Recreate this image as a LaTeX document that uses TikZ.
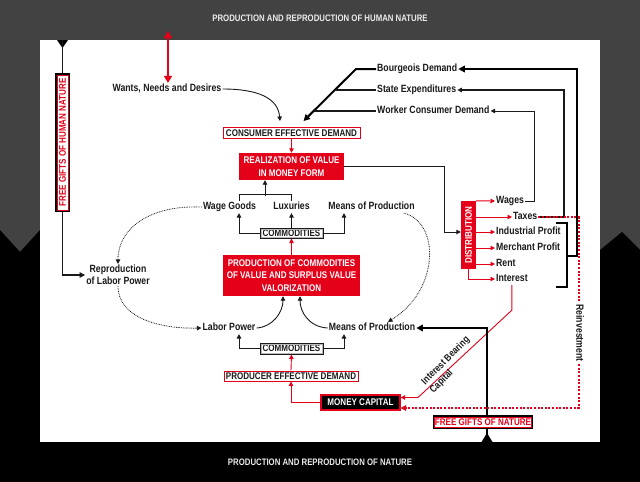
\documentclass[tikz,border=0pt]{standalone}
\usepackage{fontspec}
\usepackage{graphicx}
\setmainfont{Liberation Sans}[FakeStretch=0.83]
\usetikzlibrary{arrows.meta,calc}
\definecolor{rd}{HTML}{E5001A}
\definecolor{bgtop}{HTML}{424242}
\definecolor{ink}{HTML}{1A1A1A}
\begin{document}
\begin{tikzpicture}[x=1pt,y=-1pt,
  every node/.style={font=\bfseries\fontsize{10.5}{12}\selectfont, text=ink, inner sep=1pt},
  lab/.style={text height=7.6pt, text depth=2.2pt},
  capf/.style={font=\bfseries\fontsize{9.7}{12.5}\selectfont},
  barrow/.style={-{Triangle[length=4.5pt,width=4.5pt]}, draw=ink, line width=0.9pt},
  rarrow/.style={-{Triangle[length=4.5pt,width=4.5pt]}, draw=rd, line width=0.9pt},
  tarrow/.style={-{Triangle[length=6.5pt,width=6.5pt]}, draw=black, line width=2pt},
  darrow/.style={-{Triangle[length=4.5pt,width=4.5pt]}, draw=ink, line width=0.8pt, dash pattern=on 0.8pt off 0.9pt},
  rdotarrow/.style={-{Triangle[length=5.5pt,width=5.5pt]}, draw=rd, line width=2pt, dash pattern=on 2pt off 1.6pt},
  redbox/.style={capf, fill=rd, text=white, inner sep=0pt, align=center},
  outbox/.style={capf, fill=white, inner sep=0pt},
]
\useasboundingbox (0,0) rectangle (640,482);
% background
\fill[bgtop] (0,0) rectangle (640,482);
\fill[black] (0,230) -- (20,252) -- (40,230) -- (600,250) -- (622,232) -- (640,250) -- (640,482) -- (0,482) -- cycle;
\fill[white] (40,40) rectangle (600,442);

% titles
\node[text=white!92!black, font=\bfseries\fontsize{9.4}{11}\selectfont] (ttop) at (320,18) {PRODUCTION AND REPRODUCTION OF HUMAN NATURE};
\node[text=white!92!black, font=\bfseries\fontsize{9.4}{11}\selectfont] (tbot) at (320,462) {PRODUCTION AND REPRODUCTION OF NATURE};

% text labels
\node[lab] (wants) at (167,89) {Wants, Needs and Desires};
\node[lab, anchor=west] (bd) at (376,69) {Bourgeois Demand};
\node[lab, anchor=west] (se) at (376,90) {State Expenditures};
\node[lab, anchor=west] (wcd) at (376,111) {Worker Consumer Demand};
\node[lab] (wg) at (229.5,207) {Wage Goods};
\node[lab] (lux) at (291.5,207) {Luxuries};
\node[lab] (mop1) at (371.5,207) {Means of Production};
\node[align=center] (rlp) at (118,275) {Reproduction\\of Labor Power};
\node[lab] (lp) at (229,328) {Labor Power};
\node[lab] (mop2) at (372,328) {Means of Production};
\node[lab, anchor=west] (wages) at (495,201) {Wages};
\node[lab, anchor=west] (taxes) at (512,217) {Taxes};
\node[lab, anchor=west] (ip) at (495,232) {Industrial Profit};
\node[lab, anchor=west] (mp) at (495,248) {Merchant Profit};
\node[lab, anchor=west] (rent) at (495,264) {Rent};
\node[lab, anchor=west] (interest) at (495,279) {Interest};

% boxes
\node[outbox, draw=rd, line width=0.9pt, minimum width=137pt, minimum height=11pt] (ced) at (291.5,133) {CONSUMER EFFECTIVE DEMAND};
\node[redbox, minimum width=105pt, minimum height=27pt] (real) at (291.5,166.5) {REALIZATION OF VALUE\\IN MONEY FORM};
\node[outbox, draw=ink, line width=1pt, minimum width=63pt, minimum height=10pt] (comm1) at (291.5,233) {COMMODITIES};
\node[redbox, minimum width=137pt, minimum height=41pt] (prod) at (291.5,275.5) {PRODUCTION OF COMMODITIES\\OF VALUE AND SURPLUS VALUE\\VALORIZATION};
\node[outbox, draw=ink, line width=1pt, minimum width=63pt, minimum height=11pt] (comm2) at (291.5,348.5) {COMMODITIES};
\node[outbox, draw=rd, line width=0.9pt, minimum width=134pt, minimum height=10pt] (ped) at (291,376) {PRODUCER EFFECTIVE DEMAND};
\node[capf, fill=black, draw=rd, line width=1.2pt, text=white, inner sep=0pt, minimum width=79pt, minimum height=15pt] (mc) at (360.5,402.5) {MONEY CAPITAL};
\node[outbox, draw=black, line width=1.3pt, text=rd, minimum width=99pt, minimum height=12pt] (fgn) at (483,422) {FREE GIFTS OF NATURE};
\node[outbox, draw=black, line width=1.3pt, text=rd, minimum width=13pt, minimum height=137pt] (fgh) at (62.5,142.5) {\rotatebox{90}{FREE GIFTS OF HUMAN NATURE}};
\node[redbox, minimum width=15pt, minimum height=68pt] (dist) at (468.5,235) {\rotatebox{90}{DISTRIBUTION}};

% inner borders
\draw[rd, line width=0.6pt] ($(fgn.north west)+(1.6,1.6)$) rectangle ($(fgn.south east)+(-1.6,-1.6)$);
\draw[rd, line width=0.6pt] ($(fgh.north west)+(1.6,1.6)$) rectangle ($(fgh.south east)+(-1.6,-1.6)$);
\draw[gray!55, line width=0.6pt] ($(comm1.north west)+(1.4,1.4)$) rectangle ($(comm1.south east)+(-1.4,-1.4)$);
\draw[gray!55, line width=0.6pt] ($(comm2.north west)+(1.4,1.4)$) rectangle ($(comm2.south east)+(-1.4,-1.4)$);

% top red double arrow
\coordinate (rtop) at (168,31);
\draw[draw=rd, line width=2.2pt, {Triangle[length=7pt,width=8pt]}-{Triangle[length=7pt,width=8pt]}] (rtop) -- ([xshift=1pt]wants.north);

% demand into consumer effective demand
\draw[barrow] (wants.east) .. controls (258,89) and (278,98) .. ([xshift=-11.5pt,yshift=6pt]ced.north);
\draw[tarrow] (bd.west) -- (356,69) -- ([xshift=12pt,yshift=6pt]ced.north);
\draw[draw=ink, line width=1.1pt] (se.west) -- (335,90);
\draw[draw=ink, line width=1.1pt] (wcd.west) -- (314,111);

% returns on the right
\draw[draw=black, line width=1.5pt] (556,223) -- (567,223) -- (567,287) -- (556,287);
\draw[tarrow] (567,256) -- (576.5,256) -- (576.5,69) -- (bd.east);
\draw[barrow, line width=1.1pt] (taxes.east) -| (564,90) -- (se.east);
\draw[barrow] (wages.east) -| (534,111) -- (wcd.east);

% realization to distribution
\draw[barrow] (real.east) -| (444,232) -- ([yshift=3pt]dist.west);

% distribution outputs
\draw[rarrow] (dist.north east) -- (wages.west);
\draw[rarrow] (dist.east |- taxes.west) -- (taxes.west);
\draw[rarrow] (dist.east |- ip.west) -- (ip.west);
\draw[rarrow] (dist.east |- mp.west) -- (mp.west);
\draw[rarrow] (dist.east |- rent.west) -- (rent.west);
\draw[rarrow] (dist.south) |- (interest.west);

% interest bearing capital
\draw[rarrow] (interest.south) -- ++(0,25) -- (418,397.5) -- ([yshift=5pt]mc.east);
\node[align=left, rotate=45, font=\bfseries\fontsize{10}{11.8}\selectfont] (ibc) at (450,365) {Interest Bearing\\Capital};

% free gifts of nature
\coordinate (fgnb) at (487,442);
\fill[black] (481.5,442) -- (492.5,442) -- (487,433) -- cycle;
\draw[draw=black, line width=2pt] (fgnb) -- (fgnb |- fgn.south);
\draw[tarrow] (fgnb |- fgn.north) |- (mop2.east);

% reinvestment
\draw[rdotarrow] (taxes.east) -- (578.5,217) -- (578.5,408) -- ([yshift=-5.5pt]mc.east);
\node[fill=white, inner sep=1pt] (reinv) at (580,333) {\rotatebox{-90}{Reinvestment}};

% free gifts of human nature
\coordinate (fght) at (62.5,40);
\fill[black] (57,40) -- (68,40) -- (62.5,48) -- cycle;
\draw[draw=ink, line width=1.5pt] (fght) -- (fgh.north);
\draw[draw=ink, line width=1.5pt, -{Triangle[length=5.5pt,width=5.5pt]}] (fgh.south) |- (rlp.west);

% dotted reproduction curves
\draw[darrow] (wg.west) .. controls (150,205) and (118,228) .. (rlp.north);
\draw[darrow] (rlp.south) .. controls (118,318) and (160,329) .. (lp.west);
\draw[darrow] ([xshift=-12pt]mop1.south east) .. controls (440,222) and (440,290) .. ([xshift=16pt]mop2.north);

% commodities (upper)
\draw[barrow] (comm1.west) -| ([xshift=9.5pt]wg.south);
\draw[barrow] (comm1.north) -- (lux.south);
\draw[barrow] (comm1.east) -| ([xshift=-27.5pt]mop1.south);
\draw[draw=ink, line width=0.9pt] ([xshift=9.5pt]wg.north) -- ++(0,-6) -| (lux.north);
\coordinate (brk) at (265,195.5);
\draw[barrow] (brk) -- (brk |- real.south);
\draw[rarrow] (prod.north) -- (comm1.south);
\draw[rarrow] (ced.south) -- (real.north);

% production inputs
\draw[barrow] (lp.east) .. controls (273,327) and (283,312) .. ([xshift=-8.5pt]prod.south);
\draw[barrow] (mop2.west) .. controls (309,327) and (300,312) .. ([xshift=8.5pt]prod.south);
\draw[barrow] (comm2.west) -| ([xshift=10pt]lp.south);
\draw[barrow] (comm2.east) -| ([xshift=-28pt]mop2.south);
\draw[rarrow] (ped.north) -- (comm2.south);
\draw[rarrow] (mc.west) -| (ped.south);
\end{tikzpicture}
\end{document}
